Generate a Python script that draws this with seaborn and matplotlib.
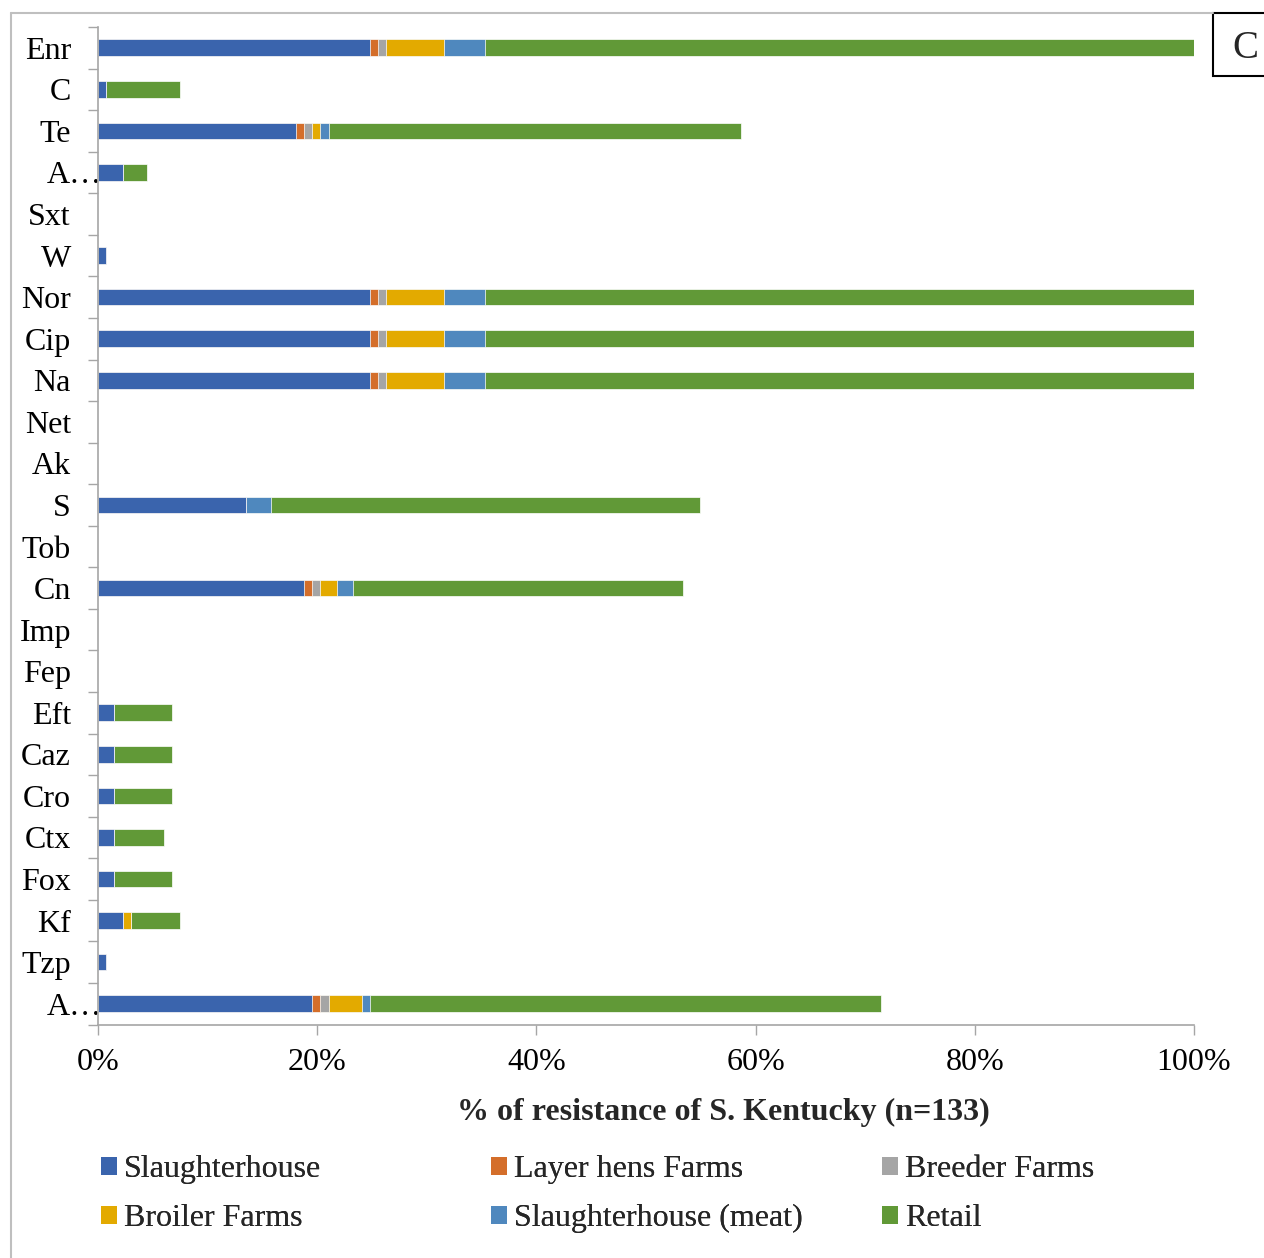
import numpy as np
import matplotlib
matplotlib.use("Agg")
import matplotlib.pyplot as plt
from matplotlib.patches import Patch, Rectangle
from matplotlib.lines import Line2D
from matplotlib.transforms import ScaledTranslation
import seaborn as sns

# Resistance counts of S. Kentucky isolates per antimicrobial and origin
N_ISOLATES = 133

drugs = ["Enr", "C", "Te", "A…", "Sxt", "W", "Nor", "Cip", "Na", "Net", "Ak", "S",
         "Tob", "Cn", "Imp", "Fep", "Eft", "Caz", "Cro", "Ctx", "Fox", "Kf", "Tzp", "A…"]

slaughterhouse = [33, 1, 24, 3, 0, 1, 33, 33, 33, 0, 0, 18, 0, 25, 0, 0, 2, 2, 2, 2, 2, 3, 1, 26]
layer_hens     = [1, 0, 1, 0, 0, 0, 1, 1, 1, 0, 0, 0, 0, 1, 0, 0, 0, 0, 0, 0, 0, 0, 0, 1]
breeder        = [1, 0, 1, 0, 0, 0, 1, 1, 1, 0, 0, 0, 0, 1, 0, 0, 0, 0, 0, 0, 0, 0, 0, 1]
broiler        = [7, 0, 1, 0, 0, 0, 7, 7, 7, 0, 0, 0, 0, 2, 0, 0, 0, 0, 0, 0, 0, 1, 0, 4]
slaughter_meat = [5, 0, 1, 0, 0, 0, 5, 5, 5, 0, 0, 3, 0, 2, 0, 0, 0, 0, 0, 0, 0, 0, 0, 1]
retail         = [86, 9, 50, 3, 0, 0, 86, 86, 86, 0, 0, 52, 0, 40, 0, 0, 7, 7, 7, 6, 7, 6, 0, 62]

series_names = ["Slaughterhouse", "Layer hens Farms", "Breeder Farms",
                "Broiler Farms", "Slaughterhouse (meat)", "Retail"]
series_colors = ["#3A64AD", "#D46E2A", "#A5A5A5", "#E3AA00", "#4F88BE", "#619937"]

x_ticks = [0, 20, 40, 60, 80, 100]
x_label = "% of resistance of S. Kentucky (n=133)"
panel_tag = "C"

# ---------------------------------------------------------------------------
sns.set_style("white")
plt.rcParams["font.family"] = ["Liberation Serif", "DejaVu Serif"]
FS = 23
GRAY = "#A6A6A6"

W, H = 1264, 1258
fig = plt.figure(figsize=(W / 100, H / 100), dpi=100)
ax = fig.add_axes([98 / W, 1 - 1024.5 / H, (1194 - 98) / W, (1024.5 - 27) / H])

counts = np.array([slaughterhouse, layer_hens, breeder, broiler, slaughter_meat, retail], dtype=float)
pct = counts / N_ISOLATES * 100
cum = np.cumsum(pct, axis=0)
positions = np.arange(len(drugs))

# stacked bars: draw cumulative totals from the outermost segment inward
for i in range(len(series_names) - 1, -1, -1):
    sns.barplot(x=cum[i], y=positions, orient="h", color=series_colors[i],
                saturation=1, width=0.4, edgecolor="white", linewidth=0.5, ax=ax)

ax.set_xlim(0, 100)
ax.set_ylim(len(drugs) - 0.5, -0.5)
ax.set_xticks(x_ticks)
ax.set_xticklabels([f"{t}%" for t in x_ticks], fontsize=FS)
ax.set_yticks(positions)
ax.set_yticklabels(drugs, fontsize=FS)
ax.set_yticks(np.arange(-0.5, len(drugs), 1), minor=True)
ax.set_xlabel("")
ax.set_ylabel("")

ax.tick_params(axis="y", which="major", length=0, pad=19.5, colors="black")
ax.tick_params(axis="y", which="minor", length=7.2, width=1, color=GRAY, direction="out", left=True)
ax.tick_params(axis="x", which="major", length=7.2, width=1, color=GRAY, direction="out",
               bottom=True, pad=10, labelcolor="black")

for side in ("top", "right"):
    ax.spines[side].set_visible(False)
for side in ("left", "bottom"):
    ax.spines[side].set_color(GRAY)
    ax.spines[side].set_linewidth(1.2)

# truncated labels sit further right
for lab in ax.get_yticklabels():
    if lab.get_text() == "A…":
        lab.set_transform(lab.get_transform() + ScaledTranslation(0.31, 0, fig.dpi_scale_trans))

fig.text(723 / W, 1 - 1112 / H, x_label, ha="center", va="center",
         fontsize=FS, fontweight="bold")

# legend: three columns, two rows
handles = [Patch(facecolor=c, edgecolor="none") for c in series_colors]
col_x = [101, 491, 882]
for k, x0 in enumerate(col_x):
    idx = [k, k + 3]
    leg = fig.legend([handles[j] for j in idx], [series_names[j] for j in idx],
                     loc="upper left", bbox_to_anchor=(x0 / W, 1 - 1155 / H),
                     frameon=False, fontsize=FS, borderpad=0, borderaxespad=0,
                     handlelength=0.49, handleheight=0.49, handletextpad=0.22,
                     labelspacing=0.63)
    fig.add_artist(leg)

# chart frame and panel tag
fig.add_artist(Line2D([11 / W, 11 / W], [0, 1 - 13 / H], transform=fig.transFigure,
                      color="#BFBFBF", lw=1.5))
fig.add_artist(Line2D([11 / W, 1213 / W], [1 - 13 / H, 1 - 13 / H], transform=fig.transFigure,
                      color="#BFBFBF", lw=1.5))
fig.add_artist(Rectangle((1213 / W, 1 - 76 / H), 80 / W, 63 / H, transform=fig.transFigure,
                         facecolor="white", edgecolor="black", lw=1.5, clip_on=False))
fig.text(1245 / W, 1 - 48 / H, panel_tag, ha="center", va="center", fontsize=28)

fig.savefig("out.png", dpi=100, facecolor="white")
